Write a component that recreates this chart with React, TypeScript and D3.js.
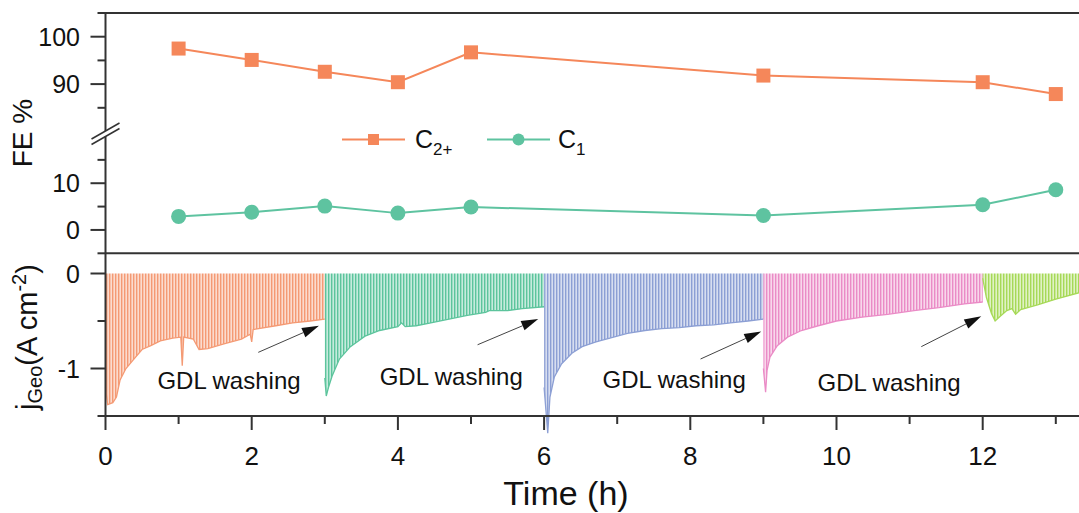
import React from 'react';
import * as d3 from 'd3';

// top panel: Faradaic efficiency at sampling times
const sampleHours = [1, 2, 3, 4, 5, 9, 12, 13];
const feC2plus = [97.5, 95.1, 92.6, 90.4, 96.7, 91.8, 90.4, 87.9];
const feC1 = [2.9, 3.8, 5.1, 3.6, 4.9, 3.1, 5.4, 8.6];

// bottom panel: lower envelope of the pulsed current, one array per GDL cycle [h, A cm-2]
const traceCycle1 = [
  [0, -1.2], [0.03, -1.38], [0.1, -1.36], [0.15, -1.3], [0.2, -1.12], [0.28, -1.0],
  [0.38, -0.91], [0.5, -0.8], [0.62, -0.76], [0.75, -0.71], [0.92, -0.68], [1.03, -0.67],
  [1.05, -0.97], [1.07, -0.67], [1.2, -0.69], [1.28, -0.8], [1.4, -0.79], [1.62, -0.74],
  [1.86, -0.69], [1.98, -0.64], [2.0, -0.72], [2.02, -0.59], [2.33, -0.55], [2.56, -0.52],
  [2.8, -0.5], [3.0, -0.48],
];
const traceCycle2 = [
  [3.0, -1.1], [3.02, -1.29], [3.05, -1.2], [3.1, -1.08], [3.2, -0.9], [3.35, -0.77],
  [3.55, -0.66], [3.75, -0.6], [4.0, -0.56], [4.05, -0.52], [4.1, -0.56], [4.25, -0.55],
  [4.45, -0.52], [4.7, -0.48], [4.95, -0.44], [5.2, -0.41], [5.25, -0.39], [5.5, -0.39],
  [5.7, -0.37], [6.0, -0.35],
];
const traceCycle3 = [
  [6.0, -1.2], [6.05, -1.68], [6.08, -1.3], [6.14, -1.09], [6.24, -0.95], [6.38, -0.84],
  [6.52, -0.77], [6.71, -0.72], [6.9, -0.68], [7.14, -0.63], [7.38, -0.6], [7.61, -0.58],
  [7.85, -0.57], [8.08, -0.55], [8.32, -0.54], [8.55, -0.52], [8.79, -0.5], [9.0, -0.48],
];
const traceCycle4 = [
  [9.0, -1.0], [9.03, -1.25], [9.05, -1.02], [9.09, -0.88], [9.19, -0.76], [9.33, -0.67],
  [9.52, -0.6], [9.75, -0.55], [10.0, -0.5], [10.35, -0.46], [10.7, -0.43], [11.06, -0.39],
  [11.4, -0.36], [11.75, -0.32], [12.0, -0.3],
];
const traceCycle5 = [
  [12.0, -0.05], [12.05, -0.25], [12.12, -0.42], [12.17, -0.5], [12.24, -0.45], [12.33, -0.39],
  [12.4, -0.37], [12.45, -0.43], [12.52, -0.38], [12.75, -0.33], [13.0, -0.27], [13.33, -0.2],
];
const traces = [traceCycle1, traceCycle2, traceCycle3, traceCycle4, traceCycle5];

// annotations in data units: arrow tail, arrow tip, label start
const arrowTails = [[2.09, -0.83], [5.09, -0.75], [8.14, -0.9], [11.16, -0.77]];
const arrowTips = [[2.92, -0.55], [5.92, -0.48], [8.97, -0.61], [11.98, -0.45]];
const washLabelAt = [[0.71, -1.22], [3.75, -1.17], [6.8, -1.21], [9.74, -1.24]];
const washLabel = 'GDL washing';

const timeTicks = [0, 2, 4, 6, 8, 10, 12];
const timeMinor = [1, 3, 5, 7, 9, 11, 13];
const feUpperTicks = [90, 100];
const feUpperMinor = [85, 95, 105];
const feLowerTicks = [0, 10];
const feLowerMinor = [-5, 5, 15];
const jTicks = [0, -1];
const jMinor = [-0.5, -1.5];

const traceColors = ['#f49a74', '#5cc49c', '#8c9fd4', '#ea8bc6', '#a6d957'];
const c2Color = '#f5875a';
const c1Color = '#5ec3a0';
const axisColor = '#333';
const font = '"Liberation Sans", Arial, Helvetica, sans-serif';

const W = 1079;
const H = 513;
const left = 105.5;

export default function App() {
  const x = d3.scaleLinear().domain([0, 13.4]).range([left, left + 13.4 * 73.1]);
  const yUp = d3.scaleLinear().domain([80, 105]).range([131.5, 13]);
  const yLow = d3.scaleLinear().domain([-5, 20]).range([253.3, 136.5]);
  const yJ = d3.scaleLinear().domain([-1.5, 0.2]).range([416, 254.5]);

  const c2Line = d3.line<number>().x((_, i) => x(sampleHours[i])).y(d => yUp(d));
  const c1Line = d3.line<number>().x((_, i) => x(sampleHours[i])).y(d => yLow(d));
  const area = d3.area<number[]>().x(d => x(d[0])).y0(yJ(0)).y1(d => yJ(d[1]));
  const env = d3.line<number[]>().x(d => x(d[0])).y(d => yJ(d[1]));

  const tickLabel = { fontFamily: font, fontSize: 25, fill: '#111' } as const;

  const yTick = (y: number, major: boolean, key: string) => (
    <line key={key} x1={left - (major ? 15 : 8)} x2={left} y1={y} y2={y} stroke={axisColor} strokeWidth={2} />
  );

  return (
    <svg width={W} height={H} style={{ position: 'absolute', left: 0, top: 0, background: '#fff' }}>
      <defs>
        {traceColors.map((c, i) => (
          <pattern key={i} id={`stripe${i}`} patternUnits="userSpaceOnUse" width={3} height={10}>
            <rect width={3} height={10} fill={c} opacity={0.35} />
            <rect x={1} width={1.4} height={10} fill={c} />
          </pattern>
        ))}
      </defs>

      {/* current traces */}
      {traces.map((t, i) => (
        <g key={i}>
          <path d={area(t) as string} fill={`url(#stripe${i})`} />
          <path d={env(t) as string} fill="none" stroke={traceColors[i]} strokeWidth={1.3} />
        </g>
      ))}

      {/* GDL washing annotations */}
      {arrowTails.map((tail, i) => {
        const x0 = x(tail[0]), y0 = yJ(tail[1]);
        const x1 = x(arrowTips[i][0]), y1 = yJ(arrowTips[i][1]);
        const a = Math.atan2(y1 - y0, x1 - x0);
        const len = 17, hw = 5;
        const bx = x1 - len * Math.cos(a), by = y1 - len * Math.sin(a);
        const pts = [
          [x1, y1],
          [bx + hw * Math.sin(a), by - hw * Math.cos(a)],
          [bx - hw * Math.sin(a), by + hw * Math.cos(a)],
        ];
        return (
          <g key={i}>
            <line x1={x0} y1={y0} x2={bx} y2={by} stroke="#444" strokeWidth={1} />
            <polygon points={pts.map(p => p.join(',')).join(' ')} fill="#111" />
          </g>
        );
      })}
      {washLabelAt.map((p, i) => (
        <text key={i} x={x(p[0])} y={yJ(p[1])} fontFamily={font} fontSize={24} fill="#111">
          {washLabel}
        </text>
      ))}

      {/* FE lines */}
      <path d={c2Line(feC2plus) as string} fill="none" stroke={c2Color} strokeWidth={2} />
      <path d={c1Line(feC1) as string} fill="none" stroke={c1Color} strokeWidth={2} />
      {feC2plus.map((v, i) => (
        <rect key={i} x={x(sampleHours[i]) - 7} y={yUp(v) - 7} width={14} height={14} fill={c2Color} />
      ))}
      {feC1.map((v, i) => (
        <circle key={i} cx={x(sampleHours[i])} cy={yLow(v)} r={7.5} fill={c1Color} />
      ))}

      {/* legend */}
      <line x1={342} x2={405} y1={139.5} y2={139.5} stroke={c2Color} strokeWidth={2} />
      <rect x={368} y={134} width={11} height={11} fill={c2Color} />
      <text x={415} y={148} fontFamily={font} fontSize={25} fill="#111">
        C<tspan fontSize={17} dy={7}>2+</tspan>
      </text>
      <line x1={487} x2={550} y1={139.5} y2={139.5} stroke={c1Color} strokeWidth={2} />
      <circle cx={518.5} cy={139.5} r={6} fill={c1Color} />
      <text x={558} y={148} fontFamily={font} fontSize={25} fill="#111">
        C<tspan fontSize={17} dy={7}>1</tspan>
      </text>

      {/* frame */}
      <line x1={left} x2={W + 10} y1={13} y2={13} stroke={axisColor} strokeWidth={2} />
      <line x1={left} x2={W + 10} y1={253.3} y2={253.3} stroke={axisColor} strokeWidth={2} />
      <line x1={left} x2={W + 10} y1={416} y2={416} stroke={axisColor} strokeWidth={2} />
      <line x1={left} x2={left} y1={12} y2={131} stroke={axisColor} strokeWidth={2} />
      <line x1={left} x2={left} y1={136.5} y2={417} stroke={axisColor} strokeWidth={2} />
      <line x1={left - 14} x2={left + 14} y1={131 + 8} y2={131 - 8} stroke={axisColor} strokeWidth={1.5} />
      <line x1={left - 14} x2={left + 14} y1={136.5 + 8} y2={136.5 - 8} stroke={axisColor} strokeWidth={1.5} />

      {/* y ticks, FE */}
      {feUpperTicks.map(v => yTick(yUp(v), true, `u${v}`))}
      {feUpperMinor.map(v => yTick(yUp(v), false, `um${v}`))}
      {feLowerTicks.map(v => yTick(yLow(v), true, `l${v}`))}
      {feLowerMinor.map(v => yTick(yLow(v), false, `lm${v}`))}
      {feUpperTicks.map(v => (
        <text key={`ut${v}`} x={80} y={yUp(v)} dy="0.36em" textAnchor="end" {...tickLabel}>{v}</text>
      ))}
      {feLowerTicks.map(v => (
        <text key={`lt${v}`} x={80} y={yLow(v)} dy="0.36em" textAnchor="end" {...tickLabel}>{v}</text>
      ))}

      {/* y ticks, current */}
      {jTicks.map(v => yTick(yJ(v), true, `j${v}`))}
      {jMinor.map(v => yTick(yJ(v), false, `jm${v}`))}
      {jTicks.map(v => (
        <text key={`jt${v}`} x={80} y={yJ(v)} dy="0.36em" textAnchor="end" {...tickLabel}>{v}</text>
      ))}

      {/* x ticks */}
      {timeTicks.map(v => (
        <g key={`x${v}`}>
          <line x1={x(v)} x2={x(v)} y1={416} y2={430} stroke={axisColor} strokeWidth={2} />
          <text x={x(v)} y={465} textAnchor="middle" fontFamily={font} fontSize={26} fill="#111">{v}</text>
        </g>
      ))}
      {timeMinor.map(v => (
        <line key={`xm${v}`} x1={x(v)} x2={x(v)} y1={416} y2={424} stroke={axisColor} strokeWidth={2} />
      ))}

      {/* axis titles */}
      <text x={566} y={505} textAnchor="middle" fontFamily={font} fontSize={34} fill="#111">Time (h)</text>
      <text transform="translate(32,133) rotate(-90)" textAnchor="middle" fontFamily={font} fontSize={28} fill="#111">FE %</text>
      <text transform="translate(37,337) rotate(-90)" textAnchor="middle" fontFamily={font} fontSize={29} fill="#111">
        j<tspan fontSize={20} dy={5}>Geo</tspan>
        <tspan dy={-5}>(A cm</tspan>
        <tspan fontSize={20} dy={-11}>-2</tspan>
        <tspan dy={11}>)</tspan>
      </text>
    </svg>
  );
}
